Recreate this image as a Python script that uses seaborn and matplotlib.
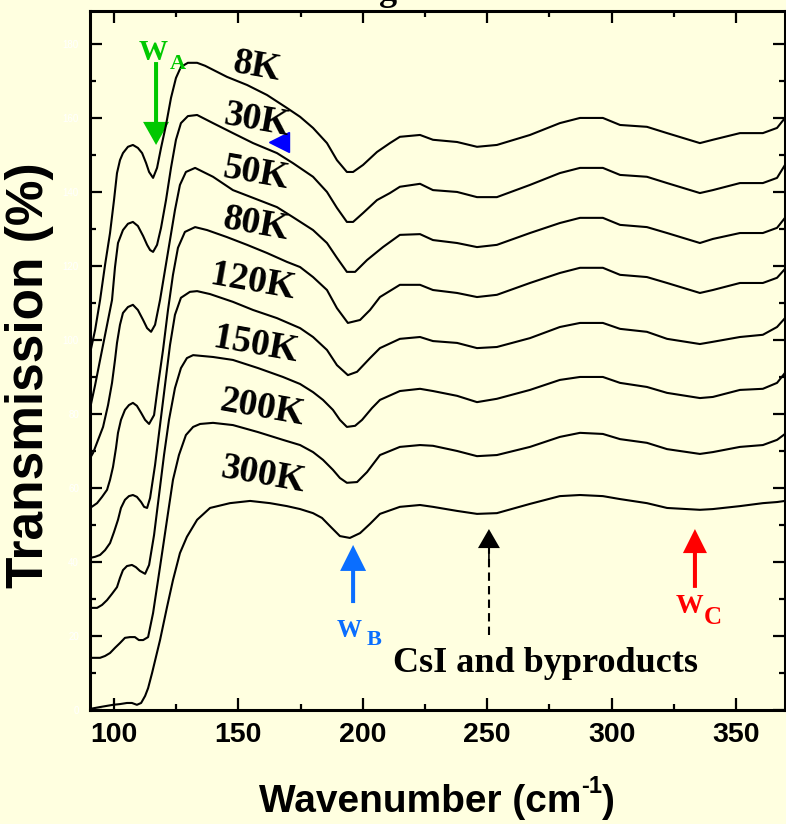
import matplotlib
matplotlib.use("Agg")
import matplotlib.pyplot as plt
import seaborn as sns
import pandas as pd
from matplotlib.patches import FancyArrowPatch

# ---------------- data ----------------
temps = ["8K", "30K", "50K", "80K", "120K", "150K", "200K", "300K"]

wn_right = [214.9, 223.0, 228.2, 237.9, 245.9, 253.9, 267.2, 279.2, 287.3, 296.5,
            303.4, 314.2, 322.3, 335.5, 340.7, 351.6, 360.8, 366.5, 369.7]

wn_left_8K = [90.4, 92.4, 94.4, 96.4, 98.4, 100.0, 101.2, 102.4, 103.6, 105.6, 107.6, 109.6,
              111.3, 112.9, 114.1, 115.7, 117.3, 118.9, 120.9, 122.9, 124.9, 126.9, 129.7,
              133.4, 136.6, 145.4, 153.5, 161.5, 169.5, 174.8, 180.0, 185.6, 189.6, 193.6,
              196.1, 200.1, 205.7, 210.9]
t_left_8K = [96.5, 102.7, 110.8, 120.3, 128.9, 137.8, 145.1, 148.6, 150.5, 152.2, 152.7, 151.9,
             150.5, 147.8, 145.4, 143.8, 146.5, 151.9, 158.1, 165.4, 170.8, 173.8, 174.9,
             174.9, 174.1, 171.1, 168.9, 166.2, 162.7, 160.3, 157.3, 153.2, 148.6, 145.4,
             145.4, 147.3, 150.8, 153.2]
t_right_8K = [154.9, 155.4, 154.1, 153.5, 152.2, 152.7, 155.4, 158.6, 160.0, 160.0,
              158.1, 157.6, 155.9, 153.2, 154.1, 155.9, 155.9, 157.3, 160.0]

wn_left_30K = [90.4, 92.4, 94.4, 96.8, 99.2, 100.4, 101.6, 103.6, 105.6, 107.6, 109.6, 111.7,
               113.3, 114.5, 115.7, 117.3, 118.9, 120.9, 122.9, 124.9, 126.9, 129.7, 133.4,
               139.8, 147.8, 155.9, 165.5, 171.9, 180.0, 185.6, 189.6, 193.6, 196.1, 200.1,
               205.7, 210.9]
t_left_30K = [81.6, 87.8, 94.6, 102.7, 110.8, 119.7, 126.2, 129.7, 131.4, 131.9, 130.8, 128.1,
              125.7, 124.3, 123.8, 125.7, 130.3, 137.8, 146.5, 154.1, 158.6, 160.5, 160.8,
              158.6, 155.9, 153.2, 150.5, 147.8, 144.1, 140.0, 135.7, 131.9, 131.9, 134.3,
              137.8, 139.7]
t_right_30K = [141.4, 142.2, 140.5, 140.0, 138.6, 138.6, 141.9, 145.1, 146.5, 146.5,
               144.6, 144.1, 142.4, 139.7, 140.5, 142.4, 142.4, 143.8, 147.3]

wn_left_50K = [90.4, 91.6, 93.6, 95.6, 97.6, 99.2, 100.4, 101.2, 102.4, 103.6, 105.6, 107.6,
               109.6, 111.7, 113.3, 114.9, 116.5, 118.5, 120.5, 122.5, 124.5, 126.5, 128.9,
               132.6, 139.8, 147.8, 155.9, 165.5, 171.9, 180.0, 185.6, 189.6, 193.6, 196.9,
               201.7, 208.1]
t_left_50K = [68.1, 69.5, 73.0, 76.5, 82.4, 88.4, 94.6, 99.2, 104.1, 107.3, 108.9, 109.5,
              108.1, 105.4, 103.2, 102.2, 104.1, 110.8, 118.9, 127.0, 135.1, 141.9, 145.4,
              146.5, 144.1, 140.5, 138.4, 135.9, 133.2, 129.7, 126.2, 122.2, 118.4, 118.4,
              121.6, 125.1]
t_right_50K = [128.4, 128.6, 127.0, 126.2, 125.1, 125.7, 128.9, 131.6, 133.0, 133.0,
               131.1, 130.5, 128.9, 126.2, 127.3, 128.9, 128.9, 130.3, 133.0]

wn_left_80K = [90.4, 93.2, 95.2, 97.2, 98.4, 99.6, 100.8, 101.6, 102.8, 104.4, 106.0, 107.6,
               109.2, 110.9, 112.5, 114.1, 116.1, 117.7, 119.7, 121.7, 123.7, 125.7, 128.5,
               132.6, 137.4, 145.4, 153.5, 161.5, 169.5, 174.8, 180.0, 185.6, 189.6, 194.0,
               198.9, 202.9, 206.9]
t_left_80K = [54.6, 55.9, 57.6, 59.5, 62.2, 65.7, 70.8, 74.9, 78.4, 81.1, 82.4, 83.0,
              82.2, 80.3, 78.4, 77.3, 79.7, 87.8, 97.3, 108.1, 117.6, 124.9, 129.2,
              130.5, 129.7, 127.8, 125.7, 123.5, 121.1, 119.7, 117.0, 113.5, 108.6, 104.6,
              105.4, 108.1, 111.6]
t_right_80K = [114.9, 114.9, 113.5, 112.7, 111.6, 112.2, 115.4, 118.1, 119.5, 119.5,
               117.6, 117.0, 115.4, 112.7, 113.5, 115.4, 115.4, 116.8, 119.2]

wn_left_120K = [90.4, 92.4, 94.4, 96.4, 98.4, 100.0, 101.6, 102.8, 104.4, 106.0, 107.6, 109.2,
                110.9, 112.1, 113.3, 114.5, 116.5, 118.5, 120.5, 122.5, 124.5, 126.9, 130.5,
                133.4, 138.6, 147.8, 155.9, 165.5, 174.8, 180.0, 185.6, 189.6, 194.0, 197.7,
                202.9, 206.9]
t_left_120K = [41.1, 41.4, 41.9, 43.2, 45.1, 48.1, 51.4, 54.6, 56.8, 57.8, 58.1, 57.6,
               56.2, 54.9, 54.6, 57.3, 66.2, 77.0, 87.8, 98.6, 106.8, 111.4, 113.0,
               113.2, 112.4, 110.3, 108.1, 105.9, 103.2, 100.8, 97.3, 93.2, 90.5, 91.4,
               95.1, 97.8]
t_right_120K = [100.3, 100.8, 99.7, 99.2, 97.8, 98.1, 100.5, 103.5, 104.6, 104.6,
                103.0, 102.2, 100.3, 98.9, 99.5, 100.8, 101.4, 103.5, 105.9]

wn_left_150K = [90.4, 93.2, 95.2, 97.2, 99.2, 101.2, 102.4, 103.6, 105.2, 107.2, 108.8, 110.4,
                112.5, 114.1, 116.1, 118.1, 120.1, 122.1, 124.5, 126.9, 129.3, 131.8, 139.8,
                147.8, 157.9, 167.9, 174.8, 180.0, 184.0, 188.0, 190.8, 193.6, 196.9, 199.7,
                203.7, 206.9]
t_left_150K = [27.6, 27.6, 28.4, 29.7, 31.4, 33.2, 35.7, 37.8, 38.9, 39.2, 38.6, 37.6,
               36.8, 39.2, 47.3, 58.1, 68.9, 78.4, 87.0, 92.4, 95.1, 95.9, 95.4,
               94.6, 92.4, 90.0, 88.1, 85.9, 83.8, 81.1, 78.4, 76.5, 76.8, 78.4,
               81.6, 83.8]
t_right_150K = [86.2, 86.8, 86.2, 84.9, 83.2, 84.1, 86.5, 89.2, 90.0, 90.0,
                88.4, 87.3, 85.7, 84.3, 84.6, 86.5, 86.8, 88.4, 91.1]

wn_left_200K = [90.4, 94.4, 96.4, 98.4, 100.4, 102.4, 104.4, 106.4, 108.4, 110.0, 111.7, 113.7,
                115.7, 117.7, 119.7, 121.7, 123.7, 126.1, 128.9, 131.8, 134.6, 139.8, 147.8,
                157.9, 167.9, 174.8, 180.0, 184.0, 188.0, 190.8, 193.6, 197.7, 201.7, 206.9]
t_left_200K = [14.1, 14.1, 14.6, 15.4, 16.8, 18.1, 19.5, 19.7, 19.7, 18.9, 18.9, 19.7,
               26.2, 35.1, 44.1, 53.2, 62.2, 68.9, 74.3, 76.5, 77.3, 77.6, 77.0,
               75.1, 73.0, 71.6, 69.7, 67.6, 64.9, 62.7, 61.4, 61.6, 64.3, 68.9]
t_right_200K = [71.1, 71.6, 71.4, 70.0, 68.6, 68.9, 71.1, 73.8, 74.9, 74.6,
                73.2, 72.2, 70.5, 69.2, 69.7, 71.1, 71.6, 73.0, 74.6]

wn_left_300K = [90.4, 94.4, 99.6, 102.4, 105.2, 107.2, 109.2, 110.9, 112.5, 113.7, 115.3, 118.5,
                121.3, 123.7, 126.5, 129.3, 133.4, 138.6, 146.6, 154.7, 162.7, 169.5, 174.8,
                180.0, 183.6, 186.8, 190.8, 194.8, 198.9, 202.9, 206.9]
t_left_300K = [0.3, 0.8, 1.4, 1.6, 1.9, 1.9, 1.4, 1.9, 3.8, 5.9, 10.0, 18.9,
               27.8, 35.1, 42.4, 46.8, 51.4, 54.6, 55.9, 56.5, 55.9, 55.1, 54.3,
               53.2, 51.9, 49.7, 47.0, 46.5, 47.8, 50.3, 53.0]
t_right_300K = [54.9, 55.4, 54.9, 53.8, 53.0, 53.2, 55.7, 57.8, 58.1, 57.8,
                57.0, 55.9, 54.6, 54.1, 54.3, 55.1, 55.9, 56.2, 56.5]

x_ticks = [100, 150, 200, 250, 300, 350]
y_ticks = [0, 20, 40, 60, 80, 100, 120, 140, 160, 180]

series = {
    "8K": (wn_left_8K, t_left_8K, t_right_8K),
    "30K": (wn_left_30K, t_left_30K, t_right_30K),
    "50K": (wn_left_50K, t_left_50K, t_right_50K),
    "80K": (wn_left_80K, t_left_80K, t_right_80K),
    "120K": (wn_left_120K, t_left_120K, t_right_120K),
    "150K": (wn_left_150K, t_left_150K, t_right_150K),
    "200K": (wn_left_200K, t_left_200K, t_right_200K),
    "300K": (wn_left_300K, t_left_300K, t_right_300K),
}
rows = []
for name in temps:
    wl, tl, tr = series[name]
    for w, t in zip(wl + wn_right, tl + tr):
        rows.append({"wn": w, "T": t, "temp": name})
df = pd.DataFrame(rows)

# ---------------- style ----------------
BG = "#FFFFE0"
sns.set_theme(style="ticks")
plt.rcParams["font.family"] = ["Liberation Sans", "DejaVu Sans"]
plt.rcParams["axes.unicode_minus"] = False
plt.rcParams["text.color"] = "black"
plt.rcParams["axes.labelcolor"] = "black"
plt.rcParams["xtick.color"] = "black"
plt.rcParams["ytick.color"] = "black"

fig = plt.figure(figsize=(7.86, 8.24), dpi=100, facecolor=BG)
ax = fig.add_axes([90 / 786, 114 / 824, 695 / 786, 699 / 824])
ax.set_facecolor(BG)

sns.lineplot(data=df, x="wn", y="T", units="temp", estimator=None, sort=False,
             color="black", lw=1.5, ax=ax, legend=False)

ax.set_xlim(90.35, 369.7)
ax.set_ylim(0, 188.9)
ax.set_xticks(x_ticks)
ax.set_xticks([125, 175, 225, 275, 325], minor=True)
ax.set_yticks(y_ticks)
ax.set_yticks([10, 30, 50, 70, 90, 110, 130, 150, 170], minor=True)
ax.set_xticklabels([str(v) for v in x_ticks])
ax.set_yticklabels([str(v) for v in y_ticks])
for s in ax.spines.values():
    s.set_linewidth(2.2)
    s.set_color("black")
    s.set_visible(True)
ax.tick_params(which="both", direction="in", top=True, right=True, width=1.6, color="black")
ax.tick_params(which="major", length=8.6)
ax.tick_params(which="minor", length=4.3)
ax.tick_params(axis="x", which="major", pad=9, labelsize=20.5, labelcolor="black")
ax.tick_params(axis="y", which="major", pad=8, labelsize=7, labelcolor="white")
for lab in ax.get_xticklabels():
    lab.set_weight("bold")
ax.set_xlabel("")
ax.set_ylabel("")

# x-axis title built from pieces so the superscript keeps a plain hyphen
renderer = fig.canvas.get_renderer()
xl_kw = dict(fontsize=28, weight="bold", va="baseline", ha="left", color="black",
             family=["Liberation Sans", "DejaVu Sans"])
base_y = 1 - 812 / 824
parts = [("Wavenumber (cm", 28, 0.0), ("-1", 17, 19.0), (")", 28, 0.0)]
widths = []
for txt, fs, _ in parts:
    t = fig.text(0, 0, txt, **{**xl_kw, "fontsize": fs})
    widths.append(t.get_window_extent(renderer).width)
    t.remove()
total = sum(widths)
x_px = 437 - total / 2
for (txt, fs, rise), w in zip(parts, widths):
    fig.text(x_px / 786, base_y + rise / 824, txt, **{**xl_kw, "fontsize": fs})
    x_px += w

fig.text(30 / 786, 1 - 375 / 824, "Transmission (%)", rotation=90, ha="center", va="center",
         fontsize=37, weight="bold", color="black", family=["Liberation Sans", "DejaVu Sans"])

# partially cut-off title descender at the top edge
fig.text(388 / 786, 1.0, "g", ha="center", va="baseline", fontsize=26, weight="bold",
         color="black", family=["Liberation Serif", "DejaVu Serif"])

# temperature labels
serif = ["Liberation Serif", "DejaVu Serif"]
label_pos = {"8K": (157.5, 173.8), "30K": (157.5, 159.2), "50K": (157.1, 144.9),
             "80K": (157.1, 131.1), "120K": (155.9, 115.6), "150K": (157.1, 98.6),
             "200K": (159.5, 81.6), "300K": (159.9, 63.5)}
for name in temps:
    x, y = label_pos[name]
    ax.text(x, y, name, ha="center", va="center", rotation=-10, rotation_mode="anchor",
            fontsize=27, weight="bold", family=serif, color="black")


def arrow(tail, tip, color, hl, hw, tw):
    p = FancyArrowPatch(posA=tail, posB=tip,
                        arrowstyle=f"simple,head_length={hl},head_width={hw},tail_width={tw}",
                        mutation_scale=1, color=color, shrinkA=0, shrinkB=0, lw=0)
    ax.add_patch(p)


GREEN = "#00C800"
BLUE = "#0A6EFF"
RED = "#FF0000"

# W_A (green, pointing down)
arrow((116.9, 175.1), (116.9, 152.7), GREEN, 16.6, 18.7, 2.9)
ax.text(115.7, 177.8, "W", ha="center", va="center", fontsize=21, weight="bold",
        family=serif, color=GREEN)
ax.text(125.7, 174.6, "A", ha="center", va="center", fontsize=16, weight="bold",
        family=serif, color=GREEN)

# small blue arrowhead near the 30K label
ax.plot([166.2], [153.5], marker="<", ms=14, color="#0000FF", mec="#0000FF", ls="none")

# W_B (blue, pointing up)
arrow((196.1, 28.9), (196.1, 44.6), BLUE, 18.7, 18.7, 2.9)
ax.text(194.6, 21.6, "W", ha="center", va="center", fontsize=18, weight="bold",
        family=serif, color=BLUE)
ax.text(204.5, 18.8, "B", ha="center", va="center", fontsize=16, weight="bold",
        family=serif, color=BLUE)

# CsI and byproducts (black dashed arrow)
ax.plot([250.7, 250.7], [20.3, 43.8], color="black", lw=1.5, ls=(0, (4, 2.5)))
arrow((250.7, 40.5), (250.7, 48.9), "black", 13.7, 15.8, 1.2)
ax.text(273.6, 10.3, "CsI and byproducts", ha="center", va="baseline", fontsize=26,
        weight="bold", family=serif, color="black")

# W_C (red, pointing up)
arrow((333.5, 33.0), (333.5, 48.9), RED, 17.3, 17.3, 2.9)
ax.text(331.3, 28.1, "W", ha="center", va="center", fontsize=20, weight="bold",
        family=serif, color=RED)
ax.text(340.7, 25.1, "C", ha="center", va="center", fontsize=18, weight="bold",
        family=serif, color=RED)

fig.savefig("out.png", dpi=100, facecolor=BG)
